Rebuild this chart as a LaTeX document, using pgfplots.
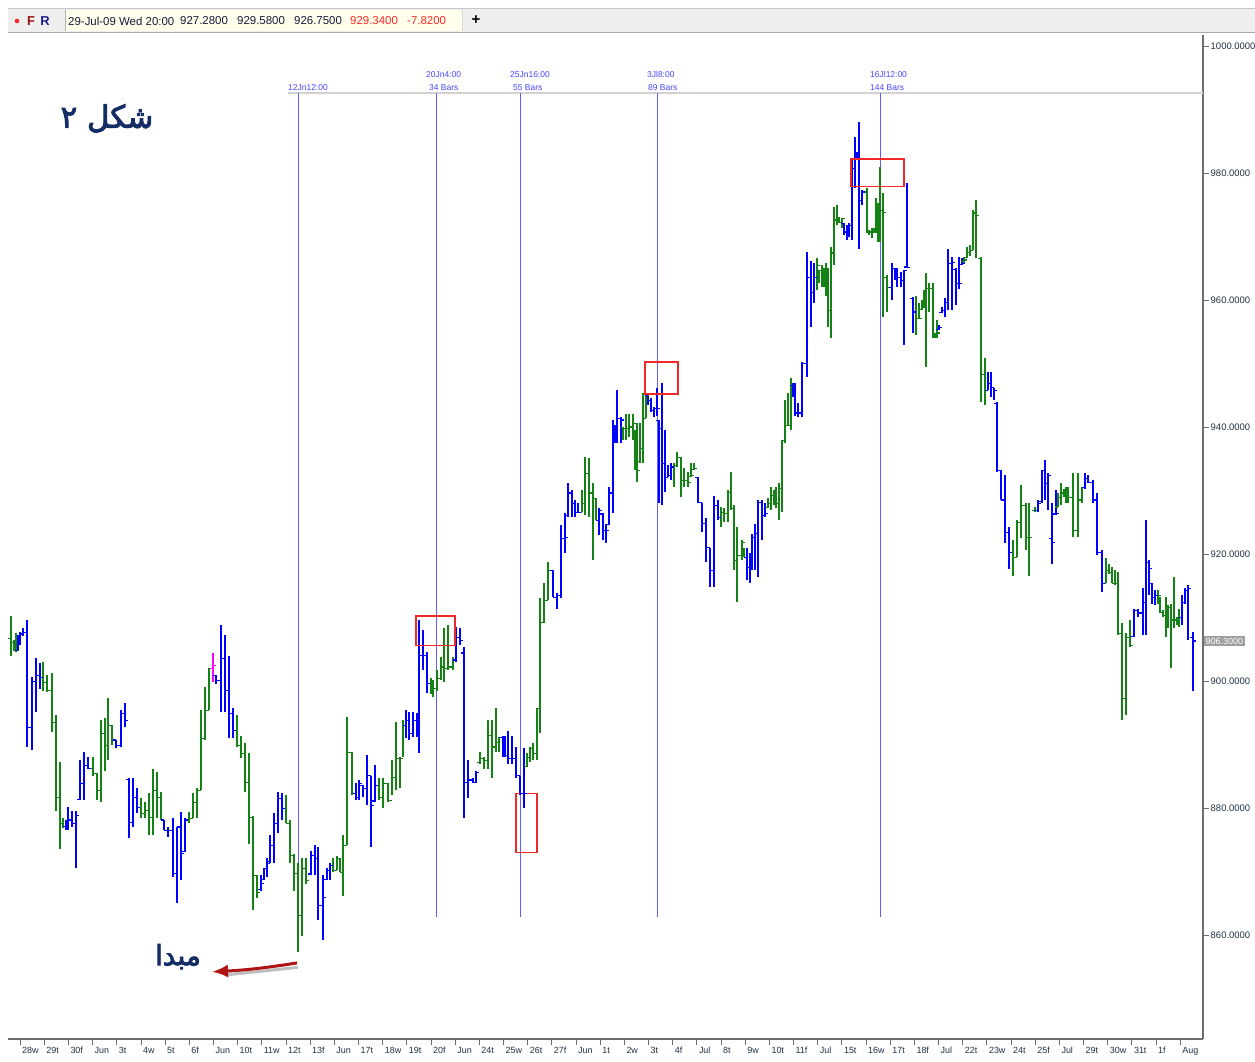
\documentclass[border=0pt]{standalone}
\usepackage{fontspec}
\setmainfont{Liberation Sans}
\newfontfamily\arabicfont[Script=Arabic,FakeBold=3]{DejaVu Sans}
\usepackage{pgfplots}
\pgfplotsset{compat=1.18}
\usepackage{pgfplotstable}
\usetikzlibrary{arrows.meta}
\TeXXeTstate=1

\definecolor{barblue}{RGB}{0,0,255}
\definecolor{bargreen}{RGB}{20,130,20}
\definecolor{barmag}{RGB}{255,0,255}
\definecolor{vline}{RGB}{95,95,255}
\definecolor{lblblue}{RGB}{70,70,255}
\definecolor{boxred}{RGB}{240,40,40}
\definecolor{arrowred}{RGB}{175,20,20}
\definecolor{navytxt}{RGB}{20,45,100}
\definecolor{hdrgray}{RGB}{238,238,238}
\definecolor{cream}{RGB}{255,255,235}
\definecolor{hdrtext}{RGB}{25,25,60}
\definecolor{hdrred}{RGB}{255,40,40}
\definecolor{ticktext}{RGB}{30,50,70}
\definecolor{axgray}{RGB}{110,110,110}

\pgfplotstableread{
x h l o c
11 910.3 904.0 906.7 906.1
14 906.4 904.8 906.1 905.6
16 907.5 904.5 905.6 904.8
43 903.0 898.5 900.6 899.8
47 900.9 898.2 899.8 898.5
52 901.2 891.9 898.5 893.5
56 894.6 879.6 893.5 881.7
60 887.2 873.6 881.7 877.6
63 878.5 876.8 877.6 877.1
93 888.0 885.1 886.2 885.5
97 885.5 881.2 885.5 882.8
101 893.8 880.9 882.8 891.8
105 894.1 885.9 891.8 889.9
108 897.3 887.5 889.9 893.0
112 893.0 889.9 893.0 890.7
141 881.5 878.5 880.1 879.2
145 880.9 878.5 879.2 879.6
149 882.3 875.7 879.6 878.5
153 886.2 875.7 878.5 882.8
157 885.6 878.5 882.8 881.7
161 882.5 878.1 881.7 878.1
189 879.3 877.6 878.1 878.4
193 882.3 878.4 878.4 880.9
197 883.1 878.4 880.9 882.8
201 895.4 882.8 882.8 891.0
205 899.0 890.7 891.0 895.4
209 902.0 895.4 895.4 902.0
237 894.6 889.6 892.2 889.9
241 891.4 887.8 889.9 888.6
245 890.3 882.5 888.6 884.0
249 888.6 874.4 884.0 878.5
253 878.8 863.9 878.5 869.4
257 869.4 865.8 869.4 866.7
286 882.0 877.6 879.9 877.6
290 878.1 871.3 877.6 872.5
294 872.8 867.0 872.5 869.7
298 871.3 857.3 869.7 863.1
302 872.1 859.9 863.1 870.5
306 872.1 868.1 870.5 868.6
333 872.1 869.9 871.0 870.2
337 872.5 870.2 870.2 872.1
340 872.1 869.9 872.1 869.9
343 875.7 866.2 869.9 874.1
347 894.3 874.1 874.1 888.8
352 888.8 882.0 888.8 882.3
379 884.8 881.2 883.6 881.7
383 884.8 880.0 881.7 883.9
388 883.9 880.9 883.9 881.2
392 887.5 882.0 881.2 884.8
396 893.5 882.8 884.8 887.8
400 888.0 883.1 887.8 887.8
403 893.8 888.0 887.8 893.0
431 900.5 897.9 899.6 899.0
433 900.1 897.5 899.0 898.8
437 901.7 898.5 898.8 900.4
441 903.7 900.1 900.4 902.2
444 908.3 899.8 902.2 902.0
448 908.8 901.7 902.0 902.2
453 903.7 901.7 902.2 903.3
480 888.8 887.0 887.2 887.8
484 888.0 886.2 887.8 887.5
488 893.8 886.2 887.5 891.4
492 893.8 884.7 891.4 889.6
496 895.7 888.8 889.6 890.3
499 891.1 888.8 890.3 891.1
527 888.6 886.4 886.6 888.0
530 889.6 887.2 888.0 889.4
533 890.2 887.5 889.4 888.6
537 895.7 887.5 888.6 895.7
540 913.0 891.8 895.7 909.2
544 915.4 909.1 909.2 912.7
548 918.7 912.7 912.7 917.4
582 930.0 926.6 926.6 928.0
585 935.2 926.1 928.0 932.7
589 935.1 925.8 932.7 929.6
593 931.1 919.0 929.6 928.8
596 928.8 925.3 928.8 925.3
623 940.0 937.9 939.9 939.8
626 942.1 937.9 939.8 939.8
629 942.1 938.4 939.8 940.0
633 942.1 937.9 940.0 940.6
635 939.5 933.2 939.3 933.7
637 940.6 931.3 933.7 933.2
640 940.6 934.3 934.5 936.6
643 945.3 934.3 936.6 941.4
646 945.3 941.4 941.4 945.0
674 934.4 930.5 933.7 934.0
677 936.0 933.7 934.0 935.2
681 935.2 928.9 935.2 931.6
684 933.5 930.5 931.6 931.6
688 932.9 930.5 931.6 931.3
691 934.4 932.1 932.2 932.4
694 934.4 933.2 933.3 933.5
721 927.4 924.2 925.8 926.6
724 927.2 925.0 926.6 926.4
728 930.0 925.0 926.4 929.7
731 932.9 926.9 929.7 927.2
734 927.7 917.4 927.2 919.0
737 924.2 912.4 919.0 919.8
742 922.2 919.0 919.8 921.8
744 921.0 919.5 920.8 919.5
768 928.8 927.2 927.3 928.0
771 930.5 926.9 928.0 929.2
774 930.0 927.7 929.2 928.8
776 930.5 927.2 928.8 928.0
779 931.1 925.3 928.0 930.3
782 937.9 926.6 930.3 937.9
785 944.2 937.4 937.9 940.3
788 945.3 940.3 940.3 940.3
791 947.7 939.5 940.3 946.6
817 966.6 961.5 963.6 965.5
819 964.7 962.6 964.6 964.7
822 965.5 962.0 964.7 964.4
824 965.1 962.0 964.4 963.9
826 965.8 960.7 963.9 963.9
828 965.1 955.7 963.9 958.4
831 968.3 954.0 958.4 967.4
834 974.6 965.5 967.4 972.6
837 974.9 971.8 972.6 972.2
839 973.0 972.1 972.2 972.2
842 972.9 971.4 972.2 972.9
867 977.7 970.5 977.0 970.7
869 971.0 970.2 970.7 970.7
872 971.3 969.7 970.7 971.0
874 971.3 970.5 971.0 971.0
876 976.0 970.5 971.0 974.6
878 975.2 969.1 974.6 974.9
880 980.9 969.1 974.9 974.1
883 976.8 957.3 974.1 973.8
887 963.9 958.1 963.5 962.0
916 960.7 954.5 958.1 957.1
919 959.5 957.1 957.1 957.1
922 960.0 958.4 958.5 958.9
924 961.5 958.9 958.9 961.2
926 964.2 949.4 961.2 961.8
929 962.6 958.1 961.8 961.8
933 962.6 954.0 961.8 954.4
935 954.8 954.1 954.4 954.1
937 956.8 954.1 954.1 954.8
964 966.7 965.9 966.0 966.3
967 968.3 966.6 966.7 967.5
970 968.6 967.0 967.5 967.8
973 974.1 967.8 967.8 973.7
976 975.7 966.6 973.7 973.3
981 966.7 943.9 966.6 948.2
985 950.8 943.4 948.2 945.8
1013 922.2 916.6 920.3 919.5
1017 925.3 919.5 919.5 925.0
1021 930.8 922.5 925.0 927.7
1026 928.1 920.6 927.7 922.6
1029 928.1 916.6 922.6 922.6
1035 927.4 926.6 926.9 926.9
1058 929.6 927.4 927.4 928.9
1061 931.1 927.7 928.9 929.6
1064 930.3 928.9 929.6 929.6
1066 930.5 928.1 929.6 928.9
1068 930.5 928.1 928.9 928.9
1073 932.7 922.6 928.9 923.7
1078 932.7 922.6 923.7 928.5
1082 930.5 928.1 928.5 930.5
1106 919.3 915.4 915.4 917.4
1109 918.5 916.9 917.4 917.1
1112 917.9 915.4 917.1 915.4
1115 917.4 915.1 915.4 915.4
1118 917.1 907.2 915.4 907.5
1122 909.2 893.8 907.5 897.3
1126 907.5 894.6 897.3 906.9
1130 909.6 905.3 906.9 905.6
1158 914.3 912.2 913.5 913.5
1160 913.2 910.7 913.1 910.8
1163 911.1 910.0 910.8 910.3
1166 913.2 906.9 910.3 910.7
1168 911.9 908.3 910.7 911.6
1171 912.2 902.0 911.6 909.6
1174 916.3 908.3 909.6 909.6
1177 910.0 908.8 909.6 909.2
1179 911.4 908.5 909.2 910.0
}\greenT

\pgfplotstableread{
x h l o c
18 907.2 904.8 904.8 906.4
20 907.7 905.6 906.4 907.4
23 908.3 907.1 907.4 907.7
27 909.6 889.6 907.7 892.7
32 900.6 889.1 892.7 899.9
36 903.6 895.1 899.9 900.9
40 902.8 898.8 900.9 900.6
66 878.1 876.5 877.1 876.8
68 880.1 876.5 876.8 878.1
72 879.6 877.0 878.1 877.6
76 879.6 870.6 877.6 878.8
80 887.5 881.2 881.4 883.9
84 888.8 881.2 883.9 886.7
88 888.0 886.2 886.7 886.2
116 890.7 889.4 890.7 889.9
121 895.4 889.6 889.9 894.9
125 896.5 892.7 894.9 893.8
129 884.7 875.2 884.5 877.7
133 884.8 877.0 877.7 881.7
137 883.1 879.2 881.7 880.1
164 878.1 876.5 878.1 876.5
168 877.0 875.4 876.5 876.5
173 878.4 869.1 876.5 869.7
177 877.0 865.0 869.7 877.0
181 879.3 868.6 877.0 872.9
185 878.4 873.0 873.2 878.1
216 900.9 899.6 900.8 900.1
221 908.8 895.1 900.1 903.6
225 907.2 895.1 903.6 898.5
229 904.0 891.0 898.5 894.9
233 895.7 891.0 894.9 892.2
261 869.4 867.0 867.2 868.1
264 870.6 868.6 868.8 870.5
267 872.1 869.1 870.5 871.3
270 875.7 871.4 871.6 874.1
274 879.2 871.4 874.1 877.6
278 882.5 876.0 877.6 881.5
282 882.3 878.1 881.5 879.9
311 873.3 869.4 869.6 872.5
315 874.1 869.4 872.5 872.1
318 873.8 862.3 872.1 864.7
323 869.4 859.2 864.7 865.9
327 870.6 868.6 868.8 870.2
330 871.4 868.6 870.2 871.0
356 883.9 881.2 882.3 881.7
359 884.4 881.2 881.7 883.9
363 883.6 881.7 883.5 883.1
367 888.3 880.4 883.1 885.1
371 885.1 873.8 885.1 880.4
375 886.7 880.9 881.1 883.6
406 895.4 891.0 893.0 893.8
409 895.1 890.7 893.8 891.8
413 895.1 891.1 891.8 893.8
417 894.9 891.1 893.8 893.3
419 909.6 888.6 893.3 904.0
423 908.0 901.7 904.0 904.0
427 904.5 898.1 904.0 899.6
456 908.5 903.0 903.3 906.9
460 908.3 905.6 906.9 906.4
464 905.3 878.4 904.4 884.0
468 887.5 881.5 884.0 884.4
473 884.7 883.9 884.4 884.0
476 885.9 883.9 884.0 885.6
503 891.4 888.0 891.1 891.1
505 891.4 888.0 891.1 888.3
508 892.2 887.0 888.3 887.8
512 891.4 887.0 887.8 887.8
516 889.6 884.7 887.8 885.1
520 885.1 882.0 885.1 882.3
524 889.4 880.0 882.3 882.3
553 917.4 913.2 917.4 913.2
557 913.8 911.4 913.2 913.5
561 924.5 913.0 913.5 922.5
565 926.4 920.1 922.5 922.6
568 931.1 925.8 926.0 929.6
572 930.0 925.8 929.6 928.0
575 928.5 925.8 928.0 926.6
578 928.0 926.4 926.6 926.6
599 927.2 923.0 925.3 926.9
603 926.4 922.2 926.3 923.7
606 924.8 921.8 923.7 923.7
609 930.5 924.5 924.7 929.6
613 941.1 926.4 929.6 939.0
615 940.3 937.5 939.0 940.3
617 945.8 937.5 940.3 941.4
621 941.5 937.5 941.4 941.1
648 945.3 943.4 945.0 944.2
651 944.5 942.3 944.2 942.6
654 943.1 941.5 942.6 942.9
657 946.1 941.8 942.9 942.9
659 941.1 928.0 941.0 939.8
662 946.9 927.7 939.8 934.3
665 939.5 929.7 934.3 932.1
668 934.0 932.1 932.1 932.4
671 934.4 931.6 932.4 933.7
698 932.1 928.1 932.0 928.1
702 928.1 923.4 928.1 924.8
706 925.6 918.7 924.8 921.0
710 921.0 914.8 921.0 917.4
714 929.2 914.8 917.4 927.7
718 928.5 925.3 927.7 925.8
747 920.9 915.9 919.5 917.9
750 920.1 915.5 917.9 917.9
752 923.2 917.4 917.9 922.6
755 924.8 917.4 922.6 923.2
758 928.5 916.3 923.2 928.1
762 928.5 922.2 928.1 926.1
765 928.0 925.8 926.1 926.4
793 946.9 944.7 946.6 945.0
795 946.9 941.8 945.0 942.2
798 943.8 941.5 942.2 942.2
802 950.2 941.5 942.2 950.0
807 967.5 947.8 950.0 963.6
811 966.2 955.7 963.6 961.2
814 965.8 959.6 961.2 963.6
844 972.2 970.2 972.1 970.7
847 971.8 969.4 970.7 971.4
849 972.1 969.9 971.4 971.8
852 982.0 969.4 971.8 980.7
855 985.6 977.7 980.7 982.8
857 983.3 982.0 982.8 982.5
859 988.0 968.1 982.5 975.7
862 977.3 974.9 975.7 977.0
892 965.9 960.0 962.0 965.0
895 965.1 963.1 965.0 964.7
897 965.1 962.0 964.7 963.6
901 964.4 962.0 963.6 963.1
904 964.7 952.9 963.1 964.7
907 978.4 965.0 965.2 965.1
913 960.4 954.8 960.2 958.1
939 956.0 955.2 955.3 955.7
942 958.9 957.9 958.0 958.4
945 960.3 957.3 958.4 959.6
948 968.1 958.4 959.6 965.8
952 966.7 958.4 965.8 965.9
956 965.0 959.2 964.8 962.6
959 966.7 961.8 962.6 962.6
962 966.6 965.5 965.6 965.8
988 948.6 945.8 945.8 946.9
991 948.6 944.7 946.9 946.2
994 946.2 944.2 946.2 945.8
997 943.9 932.9 943.7 933.2
1001 933.2 928.5 933.2 928.5
1005 932.4 921.8 928.5 923.4
1009 924.2 917.7 923.4 920.3
1038 928.5 926.6 926.9 928.0
1042 933.2 928.1 928.2 933.2
1045 934.8 928.5 933.2 931.1
1048 932.7 926.9 931.1 932.4
1052 928.0 918.5 922.5 921.8
1056 930.0 926.1 926.3 926.4
1085 932.7 930.3 930.5 931.9
1088 932.4 931.1 931.9 931.3
1093 931.6 928.1 931.3 928.5
1097 929.6 919.8 928.5 920.3
1102 920.6 914.0 920.3 915.4
1134 911.4 906.9 907.0 911.1
1138 911.4 910.0 911.1 910.7
1143 914.6 907.2 910.7 912.4
1146 925.3 907.2 912.4 918.7
1149 919.0 913.5 918.7 917.7
1152 915.5 912.2 915.3 913.2
1155 914.3 911.9 913.2 913.5
1182 913.5 908.8 910.0 912.4
1185 914.6 912.2 912.4 914.3
1188 915.1 906.4 914.3 914.6
1193 907.7 898.5 906.9 906.3
}\blueT

\pgfplotstableread{
x h l o c
213 904.4 899.8 902.0 902.5
}\magT

\pgfplotsset{
  ohlc/.style={draw=none, mark=none, forget plot,
    error bars/.cd, y dir=minus, y explicit, error mark=none,
    error bar style={draw=#1, line width=1.1bp, solid}},
  otick/.style={only marks, mark=-, mark size=1.3bp, color=#1,
    mark options={xshift=-1.3bp, line width=1.1bp}},
  ctick/.style={only marks, mark=-, mark size=1.3bp, color=#1,
    mark options={xshift=1.3bp, line width=1.1bp}},
}

\begin{document}
\begin{tikzpicture}[x=1bp,y=1bp]
\useasboundingbox (0,0) rectangle (1255,1062);
\fill[white] (0,0) rectangle (1255,1062);
% header bar (pixel y 8..33)
\fill[hdrgray] (8,1029) rectangle (1255,1054);
\draw[gray!45, line width=0.8bp] (8,1054) -- (1255,1054);
\draw[gray!70, line width=1bp] (8,1029) -- (1255,1029);
\fill[cream] (65,1031) rectangle (462,1052);
\draw[gray!60, line width=0.8bp] (65,1031) -- (65,1052);
\draw[gray!30, line width=0.8bp] (462,1031) -- (462,1052);
\fill[hdrred] (17,1041) circle (2.3bp);
\node[text={rgb,255:red,150;green,20;blue,20}, font=\bfseries\fontsize{13}{13}\selectfont, inner sep=0] at (31,1041) {F};
\node[text={rgb,255:red,30;green,30;blue,140}, font=\bfseries\fontsize{13}{13}\selectfont, inner sep=0] at (45,1041) {R};
\begin{scope}[every node/.style={anchor=west, inner sep=0, font=\fontsize{11.5}{12}\selectfont, text=hdrtext}]
\node at (68,1041) {29-Jul-09 Wed 20:00};
\node at (180,1041) {927.2800};
\node at (237,1041) {929.5800};
\node at (294,1041) {926.7500};
\node[text=hdrred] at (350,1041) {929.3400};
\node[text=hdrred] at (407,1041) {-7.8200};
\end{scope}
\node[font=\bfseries\fontsize{15}{15}\selectfont, inner sep=0] at (476,1042) {+};

\begin{axis}[
  at={(8bp,23bp)}, anchor=south west,
  scale only axis, width=1195bp, height=1004bp,
  xmin=8, xmax=1203, ymin=843.62, ymax=1001.73,
  axis x line*=bottom, axis y line*=right,
  axis line style={draw=axgray, line width=1.5bp, -},
  tick align=outside, major tick length=6bp,
  tick style={draw=axgray, line width=0.8bp},
  ytick={860,880,900,920,940,960,980,1000},
  yticklabels={860.0000,880.0000,900.0000,920.0000,940.0000,960.0000,980.0000,1000.0000},
  yticklabel style={font=\fontsize{9.5}{10}\selectfont, text=ticktext, inner sep=1.5bp},
  xtick={20,44.2,68.3,92.5,116.7,140.9,165.0,189.2,213.4,237.5,261.7,285.9,310.0,334.2,358.4,382.6,406.7,430.9,455.1,479.2,503.4,527.6,551.7,575.9,600.1,624.3,648.4,672.6,696.8,720.9,745.1,769.3,793.4,817.6,841.8,866.0,890.1,914.3,938.5,962.6,986.8,1011.0,1035.1,1059.3,1083.5,1107.7,1131.8,1156.0,1180.2},
  xticklabels={28w,29t,30f,Jun,3t,4w,5t,6f,Jun,10t,11w,12t,13f,Jun,17t,18w,19t,20f,Jun,24t,25w,26t,27f,Jun,1t,2w,3t,4f,Jul,8t,9w,10t,11f,Jul,15t,16w,17t,18f,Jul,22t,23w,24t,25f,Jul,29t,30w,31t,1f,Aug},
  xticklabel style={font=\fontsize{9}{10}\selectfont, text=ticktext, anchor=north west, inner sep=0pt, xshift=2bp, yshift=-2bp},
  clip=false,
]
% gray top line and vertical study lines
\draw[gray!35, line width=2bp] (axis cs:288,992.6) -- (axis cs:1203,992.6);
\foreach \vx in {298,436,520,657,880} {
  \edef\tmp{\noexpand\draw[vline, line width=1bp] (axis cs:\vx,992.6) -- (axis cs:\vx,862.8);}\tmp
}
\begin{scope}[every node/.style={anchor=south west, inner sep=0, align=left, text=lblblue, font=\fontsize{8.5}{12.5}\selectfont}]
\node at (axis cs:288,993.0) {12Jn12:00};
\node at (axis cs:426,993.0) {20Jn4:00\\\hspace*{3bp}34 Bars};
\node at (axis cs:510,993.0) {25Jn16:00\\\hspace*{3bp}55 Bars};
\node at (axis cs:647,993.0) {3Jl8:00\\\hspace*{1bp}89 Bars};
\node at (axis cs:870,993.0) {16Jl12:00\\144 Bars};
\end{scope}

% bars
\addplot[ohlc=bargreen] table[x=x, y=h, y error minus expr=\thisrow{h}-\thisrow{l}] {\greenT};
\addplot[otick=bargreen] table[x=x, y=o] {\greenT};
\addplot[ctick=bargreen] table[x=x, y=c] {\greenT};
\addplot[ohlc=barblue] table[x=x, y=h, y error minus expr=\thisrow{h}-\thisrow{l}] {\blueT};
\addplot[otick=barblue] table[x=x, y=o] {\blueT};
\addplot[ctick=barblue] table[x=x, y=c] {\blueT};
\addplot[ohlc=barmag] table[x=x, y=h, y error minus expr=\thisrow{h}-\thisrow{l}] {\magT};
\addplot[otick=barmag] table[x=x, y=o] {\magT};
\addplot[ctick=barmag] table[x=x, y=c] {\magT};

% red boxes
\draw[boxred, line width=1.5bp] (axis cs:416,910.2) rectangle (axis cs:455,905.6);
\draw[boxred, line width=1.5bp] (axis cs:516,882.3) rectangle (axis cs:537,873.0);
\draw[boxred, line width=1.5bp] (axis cs:645,950.2) rectangle (axis cs:678,945.2);
\draw[boxred, line width=1.5bp] (axis cs:851,982.2) rectangle (axis cs:904,977.9);

% last price
\node[fill=gray!75, text=white, font=\fontsize{9}{10}\selectfont, inner sep=1.5bp, anchor=west] at (axis cs:1204,906.3) {906.3000};

% Arabic annotations
\node[text=navytxt, font=\arabicfont\fontsize{31}{34}\selectfont, inner sep=0] at (axis cs:107,988.6) {\beginR شکل ۲\endR};
\node[text=navytxt, font=\arabicfont\fontsize{28}{32}\selectfont, inner sep=0] at (axis cs:178,856.6) {\beginR مبدا\endR};
% arrow
\draw[gray!50, line width=3bp] (axis cs:298,854.9) -- (axis cs:225,853.7);
\draw[arrowred, line width=3bp, -{Latex[length=16bp,width=13bp]}] (axis cs:297,855.6) to[bend left=3] (axis cs:212,854.2);
\end{axis}
\end{tikzpicture}
\end{document}
